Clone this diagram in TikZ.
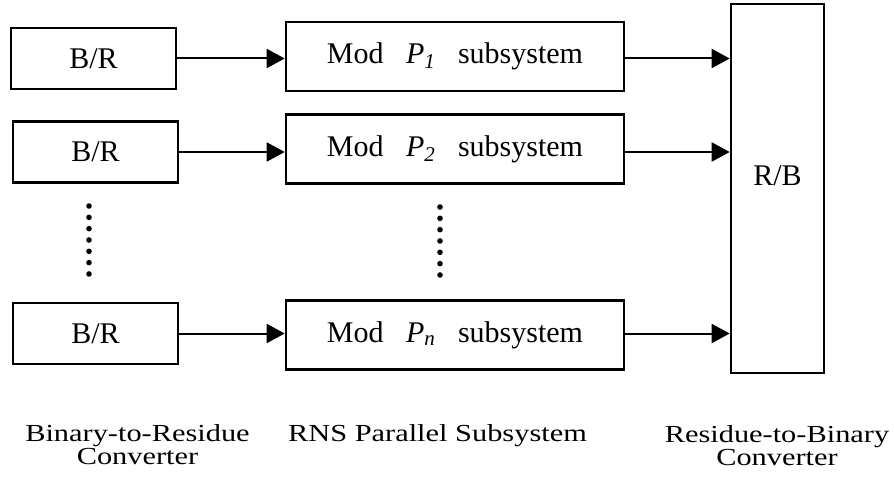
\documentclass[tikz,border=0pt]{standalone}
\usepackage{fontspec}
\setmainfont{Liberation Serif}
\usetikzlibrary{arrows.meta,positioning}
\begin{document}
\begin{tikzpicture}[x=1pt,y=-1pt,
  blk/.style={draw,line width=2.6pt,font=\fontsize{30}{36}\selectfont,inner sep=0pt},
  conv/.style={blk,minimum width=165pt,minimum height=61pt},
  modsys/.style={blk,minimum width=338pt,minimum height=69pt},
  arr/.style={line width=2pt,-{Triangle[length=18pt,width=19pt]}},
  lbl/.style={font=\fontsize{24.5}{23}\selectfont,align=center,xscale=1.24,transform shape}]
%
\useasboundingbox (0,0) rectangle (894,484);
%
\node[conv] (br1) at (93.5,58.5) {B/R};
\node[conv] (br2) at (95.5,152) {B/R};
\node[conv] (br3) at (95.5,333.5) {B/R};
%
\node[modsys] (mod1) at (455,56.5) {Mod\hspace{15pt} \textit{P}\textsubscript{\textit{1}}\hspace{15pt} subsystem};
\node[modsys] (mod2) at (455,149) {Mod\hspace{15pt} \textit{P}\textsubscript{\textit{2}}\hspace{15pt} subsystem};
\node[modsys] (mod3) at (455,335) {Mod\hspace{15pt} \textit{P}\textsubscript{\textit{n}}\hspace{15pt} subsystem};
%
\node[blk,minimum width=93pt,minimum height=369pt] (rb) at (777.5,188.5) {\raisebox{26pt}{R/B}};
%
\draw[arr] (br1.east) -- (br1.east -| mod1.west);
\draw[arr] (br2.east) -- (br2.east -| mod2.west);
\draw[arr] (br3.east) -- (br3.east -| mod3.west);
\draw[arr] (mod1.east |- br1) -- (br1 -| rb.west);
\draw[arr] (mod2.east |- br2) -- (br2 -| rb.west);
\draw[arr] (mod3.east |- br3) -- (br3 -| rb.west);
%
\foreach \k in {0,...,6} {
  \fill (89,{206+\k*11.33}) circle (2.8pt);
  \fill (440,{207+\k*11.33}) circle (2.8pt);
}
%
\node[lbl,anchor=base] (c1) at (137.5,464) {Binary-to-Residue\\Converter};
\node[lbl,anchor=base] (c2) at (437.5,441) {RNS Parallel Subsystem};
\node[lbl,anchor=base] (c3) at (777,465) {Residue-to-Binary\\Converter};
%
\end{tikzpicture}
\end{document}
